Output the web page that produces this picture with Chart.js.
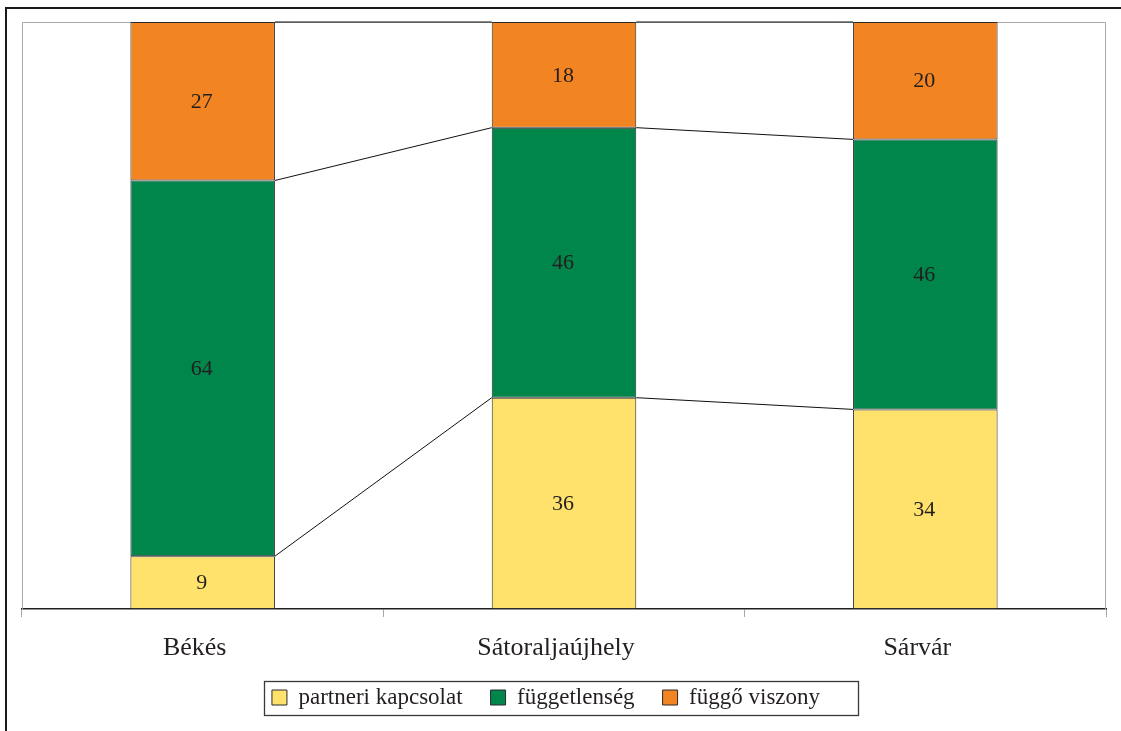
<!DOCTYPE html>
<html>
<head>
<meta charset="utf-8">
<script src="https://cdn.jsdelivr.net/npm/chart.js@4/dist/chart.umd.min.js"></script>
<style>
  html, body { margin: 0; padding: 0; background: #fff; }
  #wrap { width: 1121px; height: 731px; position: relative; }
</style>
</head>
<body>
<div id="wrap"><canvas id="c" width="1121" height="731"></canvas></div>
<script>
// Shares (%) per settlement, stacked to 100
const categories = ['Békés', 'Sátoraljaújhely', 'Sárvár'];
const partneriKapcsolat = [9, 36, 34];
const fuggetlenseg = [64, 46, 46];
const fuggoViszony = [27, 18, 20];
const seriesNames = ['partneri kapcsolat', 'függetlenség', 'függő viszony'];
const seriesColors = ['#FFE26B', '#00854A', '#F38422'];

const INK = '#231f20';
const SERIF = '"Liberation Serif", "DejaVu Serif", serif';
const PLOT_BOTTOM = 609;
const PAD_BOTTOM = 12;
const LEGEND_SHIFT = -18;

// Frame, plot border, series lines, value labels and legend box
const decor = {
  id: 'decor',
  afterLayout(chart) {
    // let the category labels use the space below the axis
    const x = chart.scales.x;
    x.bottom = chart.height;
    // nudge the legend row to the left
    const lg = chart.legend;
    if (lg) {
      lg.left += LEGEND_SHIFT;
      lg.right += LEGEND_SHIFT;
    }
  },
  beforeDraw(chart) {
    const ctx = chart.ctx;
    ctx.save();
    ctx.fillStyle = '#fff';
    ctx.fillRect(0, 0, chart.width, chart.height);
    ctx.strokeStyle = '#1a1a1a';
    ctx.lineWidth = 2;
    ctx.beginPath();
    ctx.moveTo(6, chart.height);
    ctx.lineTo(6, 8);
    ctx.lineTo(chart.width, 8);
    ctx.stroke();
    ctx.restore();
  },
  beforeDatasetsDraw(chart) {
    const ctx = chart.ctx;
    const { left, top, right, bottom } = chart.chartArea;
    ctx.save();
    ctx.strokeStyle = '#a8a8a8';
    ctx.lineWidth = 1;
    ctx.beginPath();
    ctx.moveTo(left + 0.5, bottom);
    ctx.lineTo(left + 0.5, top + 0.5);
    ctx.lineTo(right - 0.5, top + 0.5);
    ctx.lineTo(right - 0.5, bottom);
    ctx.stroke();
    ctx.restore();
  },
  afterDatasetsDraw(chart) {
    const ctx = chart.ctx;
    ctx.save();
    // series lines joining the segment tops of neighbouring bars
    ctx.strokeStyle = '#111';
    ctx.lineWidth = 1;
    chart.data.datasets.forEach((ds, d) => {
      const meta = chart.getDatasetMeta(d);
      for (let i = 0; i < meta.data.length - 1; i++) {
        const a = meta.data[i].getProps(['x', 'y', 'width'], true);
        const b = meta.data[i + 1].getProps(['x', 'y', 'width'], true);
        ctx.beginPath();
        ctx.moveTo(a.x + a.width / 2, a.y);
        ctx.lineTo(b.x - b.width / 2, b.y);
        ctx.stroke();
      }
    });
    // value labels in the middle of each segment
    ctx.fillStyle = INK;
    ctx.font = '22px ' + SERIF;
    ctx.textAlign = 'center';
    ctx.textBaseline = 'middle';
    chart.data.datasets.forEach((ds, d) => {
      const meta = chart.getDatasetMeta(d);
      meta.data.forEach((el, i) => {
        const p = el.getProps(['x', 'y', 'base'], true);
        ctx.fillText(String(ds.data[i]), p.x - 1, (p.y + p.base) / 2 + 1);
      });
    });
    ctx.restore();
  },
  afterDraw(chart) {
    const lg = chart.legend;
    if (!lg || !lg.legendHitBoxes || !lg.legendHitBoxes.length) return;
    const hb = lg.legendHitBoxes;
    const first = hb[0], last = hb[hb.length - 1];
    const cy = first.top + first.height / 2;
    const x0 = first.left - 8;
    const x1 = last.left + last.width + 38;
    const ctx = chart.ctx;
    ctx.save();
    ctx.strokeStyle = '#3a3a3a';
    ctx.lineWidth = 1.3;
    ctx.strokeRect(Math.round(x0) + 0.5, Math.round(cy - 17) + 0.5, Math.round(x1 - x0), 34);
    ctx.restore();
  }
};

const barStyle = {
  borderColor: '#2a2a2a',
  borderWidth: 1,
  borderSkipped: false,
  barPercentage: 0.4,
  categoryPercentage: 1.0
};

new Chart(document.getElementById('c'), {
  type: 'bar',
  data: {
    labels: categories,
    datasets: [
      Object.assign({ label: seriesNames[0], data: partneriKapcsolat, backgroundColor: seriesColors[0] }, barStyle),
      Object.assign({ label: seriesNames[1], data: fuggetlenseg, backgroundColor: seriesColors[1] }, barStyle),
      Object.assign({ label: seriesNames[2], data: fuggoViszony, backgroundColor: seriesColors[2] }, barStyle)
    ]
  },
  options: {
    responsive: false,
    animation: false,
    devicePixelRatio: 1,
    layout: { padding: { left: 22, right: 15, top: 22, bottom: PAD_BOTTOM } },
    scales: {
      y: { stacked: true, display: false, min: 0, max: 100 },
      x: {
        stacked: true,
        offset: true,
        grid: { offset: true, drawOnChartArea: false, drawTicks: true, tickLength: 8, color: '#a8a8a8', lineWidth: 1 },
        border: { display: true, color: INK, width: 1.5 },
        ticks: {
          font: { family: SERIF, size: 26 },
          color: INK,
          padding: 16,
          labelOffset: -8,
          maxRotation: 0,
          autoSkip: false
        },
        afterFit(scale) {
          const lgH = scale.chart.legend ? scale.chart.legend.height : 0;
          scale.height = scale.chart.height - PAD_BOTTOM - lgH - PLOT_BOTTOM;
        }
      }
    },
    plugins: {
      tooltip: { enabled: false },
      legend: {
        position: 'bottom',
        labels: {
          font: { family: SERIF, size: 23 },
          color: INK,
          boxWidth: 15,
          boxHeight: 15,
          padding: 28
        }
      }
    }
  },
  plugins: [decor]
});
</script>
</body>
</html>
